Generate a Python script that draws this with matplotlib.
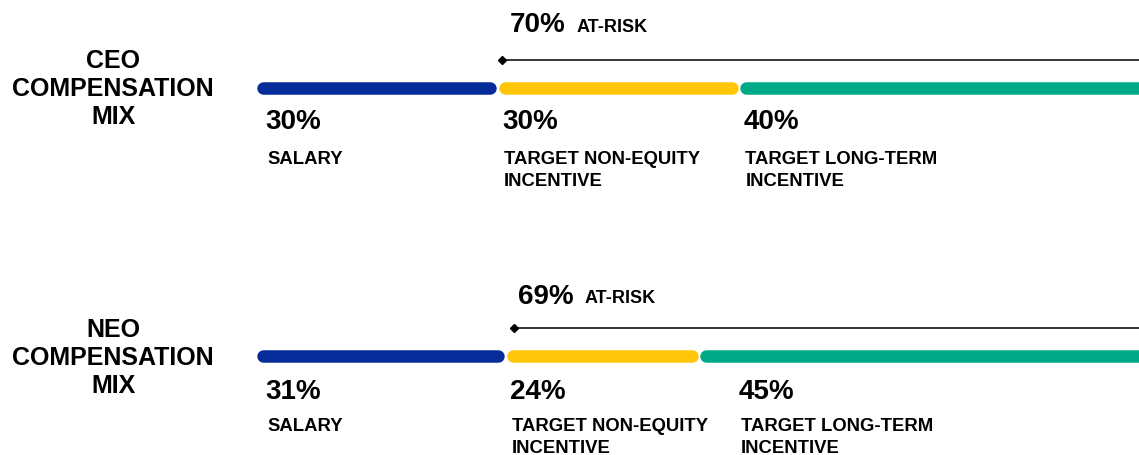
import matplotlib
matplotlib.use("Agg")
import matplotlib.pyplot as plt

plt.rcParams["font.family"] = ["Liberation Sans", "DejaVu Sans"]
plt.rcParams["font.weight"] = "bold"

# data
rows = ["CEO\nCOMPENSATION\nMIX", "NEO\nCOMPENSATION\nMIX"]
components = ["SALARY", "TARGET NON-EQUITY\nINCENTIVE", "TARGET LONG-TERM\nINCENTIVE"]
ceo_mix = [30, 30, 40]
neo_mix = [31, 24, 45]
at_risk = [70, 69]

colors = ["#062C9A", "#FFC60A", "#00AA87"]

# layout (y in pixel rows, x in percent units)
W, H = 1139, 456
px_per_pct = 8.05
x0_px = 256
bar_y = [89, 357]
line_y = [60.5, 329]
risk_y = [25.5, 297.5]
pct_y = [122.5, 392]
lab_y = [160, 427]
title_y = [89, 358]


def px2pct(px):
    return (px - x0_px) / px_per_pct


fig = plt.figure(figsize=(W / 100, H / 100), dpi=100)
ax = fig.add_axes([0, 0, 1, 1])
ax.set_xlim(px2pct(0), px2pct(W))
ax.set_ylim(H, 0)
ax.axis("off")

bar_lw = 12.5 * 72 / 100   # ~12 px thick
half = 6 / px_per_pct      # round cap overhang in pct units
gap = 1.2 / px_per_pct
right = px2pct(W)

for r, mix in enumerate([ceo_mix, neo_mix]):
    y = bar_y[r]
    start = 0
    label_x = None
    for i, (v, c) in enumerate(zip(mix, colors)):
        end = start + v
        # last segment runs off the right edge, as in the source graphic
        seg_end = right + 5 if i == len(mix) - 1 else end - half - gap
        ax.plot([start + half + gap, seg_end], [y, y], color=c, lw=bar_lw,
                solid_capstyle="round", zorder=2)

        # labels below the bar (pushed right if the previous one is wide)
        if label_x is None:
            lx = start + 1.2
        else:
            lx = max(start + 0.6, label_x + 28.4)
        ax.text(lx, pct_y[r], f"{v}%", fontsize=20, ha="left", va="center")
        for k, ln in enumerate(components[i].split("\n")):
            ax.text(lx + 0.2, lab_y[r] + k * 22, ln, fontsize=13.3,
                    ha="left", va="center")
        label_x = lx
        start = end

    # at-risk bracket
    ar_x = mix[0] + 0.5 if r == 0 else mix[0] + 1.0
    ax.plot([ar_x, right + 5], [line_y[r], line_y[r]], color="black", lw=1.1,
            zorder=3)
    ax.plot([ar_x], [line_y[r]], marker="D", color="black", markersize=4.5,
            zorder=4)
    tx = mix[0] + 1.5
    ax.text(tx, risk_y[r], f"{at_risk[r]}%", fontsize=20,
            ha="left", va="center")
    ax.text(tx + 8.3, risk_y[r] + 1.5, "AT-RISK",
            fontsize=13, ha="left", va="center")

    # row title
    ax.text(px2pct(113), title_y[r], rows[r], fontsize=18, ha="center",
            va="center", linespacing=1.2)

fig.savefig("out.png", dpi=100)
